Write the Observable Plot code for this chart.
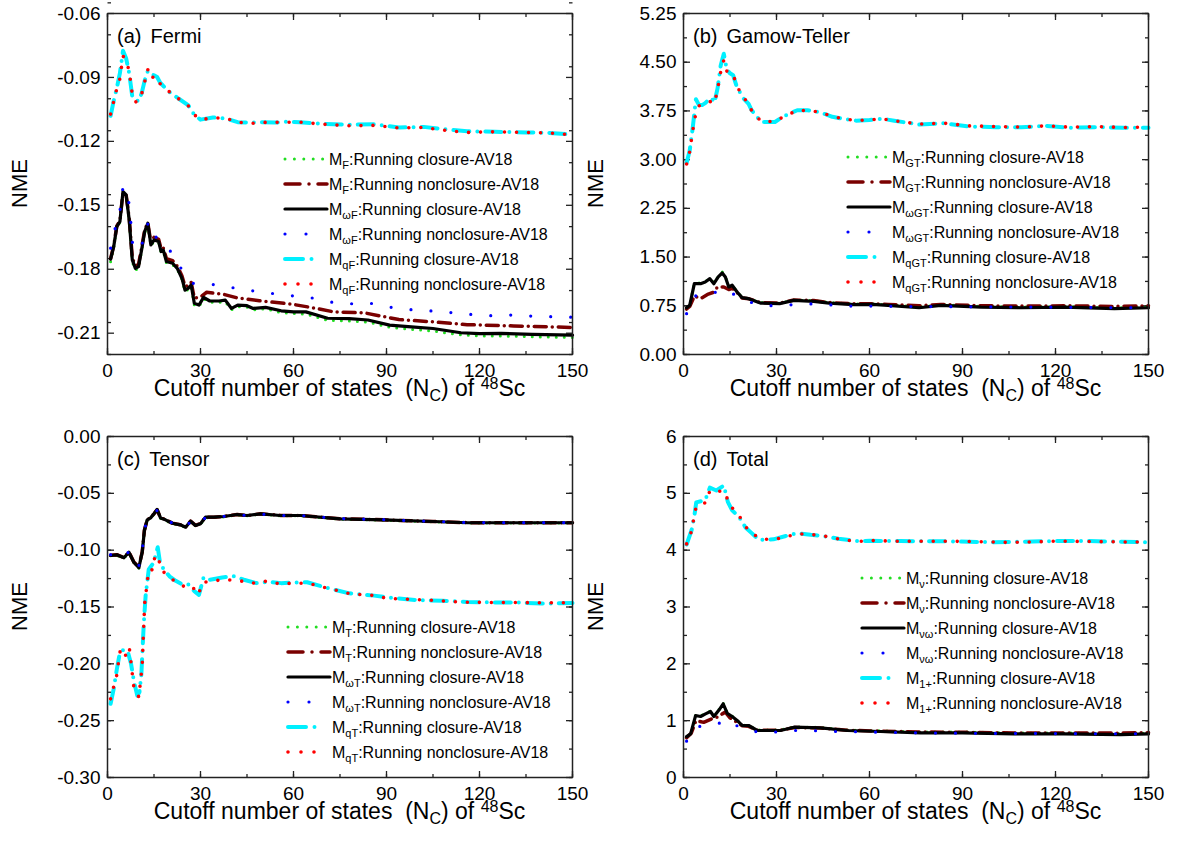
<!DOCTYPE html>
<html><head><meta charset="utf-8">
<script src="https://cdn.jsdelivr.net/npm/d3@7"></script>
<script src="https://cdn.jsdelivr.net/npm/@observablehq/plot@0.6"></script>
<style>
body{margin:0;background:#fff;}
#wrap{position:relative;width:1177px;height:853px;font-family:"Liberation Sans",Arial,sans-serif;background:#fff;}
.panel{position:absolute;}
</style></head><body><div id="wrap"></div>
<script>
// ---------- tick labels ----------
const xTicks = [0, 30, 60, 90, 120, 150];
const fermiTicks = [-0.21, -0.18, -0.15, -0.12, -0.09, -0.06];
const gtTicks = [0, 0.75, 1.5, 2.25, 3, 3.75, 4.5, 5.25];
const tensorTicks = [-0.3, -0.25, -0.2, -0.15, -0.1, -0.05, 0];
const totalTicks = [0, 1, 2, 3, 4, 5, 6];

// ---------- (a) Fermi ----------
const fermiClosure = [[1,-0.1765],[2,-0.1700],[3,-0.1605],[4,-0.1580],[5,-0.1440],[6,-0.1455],[7,-0.1575],[8,-0.1765],[9,-0.1805],[10,-0.1795],[11,-0.1715],[12,-0.1630],[13,-0.1590],[14,-0.1690],[15,-0.1668],[16.5,-0.1675],[17.3,-0.1722],[18,-0.1715],[19,-0.1770],[21,-0.1778],[22.5,-0.1800],[24,-0.1848],[25,-0.1905],[26,-0.1895],[27,-0.1880],[28,-0.1968],[29.5,-0.1975],[31,-0.1938],[33,-0.1955],[36,-0.1955],[38,-0.1952],[40,-0.1990],[42,-0.1975],[45,-0.1978],[47,-0.1990],[51,-0.1986],[56,-0.2003],[60,-0.2008],[64,-0.2010],[71,-0.2040],[78,-0.2043],[84,-0.2048],[91,-0.2072],[98,-0.2082],[105,-0.2090],[114,-0.2108],[120,-0.2113],[127,-0.2113],[137,-0.2117],[150,-0.2120]];
const fermiNonclosure = [[1,-0.1750],[2,-0.1690],[3,-0.1598],[4,-0.1572],[5,-0.1440],[6,-0.1450],[7,-0.1560],[8,-0.1745],[9,-0.1785],[10,-0.1778],[11,-0.1700],[12,-0.1615],[13,-0.1582],[14,-0.1675],[15,-0.1650],[16.5,-0.1660],[17.3,-0.1705],[18,-0.1700],[19,-0.1750],[21,-0.1760],[22.5,-0.1785],[24,-0.1830],[25,-0.1880],[26,-0.1878],[27,-0.1862],[28,-0.1935],[30,-0.1930],[32,-0.1908],[37.5,-0.1918],[42,-0.1935],[49,-0.1948],[59,-0.1963],[66,-0.1980],[73,-0.2000],[83,-0.2005],[94,-0.2036],[105,-0.2047],[116,-0.2060],[131,-0.2066],[150,-0.2073]];
const fermiOmegaClosure = [[1,-0.1753],[2,-0.1694],[3,-0.1600],[4,-0.1577],[5,-0.1435],[6,-0.1451],[7,-0.1568],[8,-0.1756],[9,-0.1796],[10,-0.1788],[11,-0.1710],[12,-0.1623],[13,-0.1584],[14,-0.1686],[15,-0.1663],[16.5,-0.1670],[17.3,-0.1717],[18,-0.1710],[19,-0.1764],[21,-0.1772],[22.5,-0.1796],[24,-0.1842],[25,-0.1898],[26,-0.1890],[27,-0.1874],[28,-0.1960],[29.5,-0.1968],[31,-0.1932],[33,-0.1949],[36,-0.1949],[38,-0.1945],[40,-0.1984],[42,-0.1968],[45,-0.1971],[47,-0.1984],[51,-0.1979],[56,-0.1995],[60,-0.2000],[64,-0.2000],[71,-0.2030],[78,-0.2032],[84,-0.2038],[91,-0.2062],[98,-0.2070],[105,-0.2078],[114,-0.2098],[120,-0.2102],[127,-0.2101],[137,-0.2106],[150,-0.2109]];
const fermiOmegaNonclosure = [[1,-0.1701],[2.6,-0.1600],[4.2,-0.1511],[5,-0.1412],[7.2,-0.1500],[7.6,-0.1600],[8.2,-0.1699],[10.9,-0.1705],[12,-0.1610],[13.5,-0.1577],[14.7,-0.1634],[17.3,-0.1675],[21,-0.1725],[24.6,-0.1819],[27.6,-0.1866],[31,-0.1866],[37.5,-0.1878],[44,-0.1897],[50,-0.1906],[57,-0.1923],[64,-0.1928],[71,-0.1952],[77.5,-0.1963],[84,-0.1957],[90,-0.1976],[97,-0.1989],[104,-0.1995],[110,-0.2002],[117,-0.2012],[124,-0.2018],[130,-0.2015],[137,-0.2020],[144,-0.2023],[150,-0.2025]];
const fermiQClosure = [[1,-0.1080],[2,-0.1010],[3,-0.0950],[4,-0.0880],[5,-0.0775],[6,-0.0810],[7,-0.0880],[8,-0.0990],[9,-0.1005],[10,-0.1012],[11,-0.0975],[12,-0.0915],[13,-0.0870],[14,-0.0885],[15,-0.0890],[16,-0.0898],[17,-0.0925],[18,-0.0940],[20,-0.0968],[23,-0.1000],[26,-0.1030],[28,-0.1075],[30,-0.1098],[34,-0.1088],[38,-0.1092],[42,-0.1110],[46,-0.1112],[50,-0.1110],[54,-0.1112],[58,-0.1108],[62,-0.1110],[70,-0.1118],[78,-0.1122],[86,-0.1120],[94,-0.1135],[102,-0.1132],[110,-0.1145],[116,-0.1152],[125,-0.1155],[135,-0.1158],[142,-0.1160],[150,-0.1168]];
const fermiQNonclosure = [[1,-0.1072],[2,-0.1012],[3,-0.0953],[4,-0.0906],[5,-0.0800],[6,-0.0820],[7,-0.0870],[8,-0.0980],[9,-0.1015],[10,-0.1012],[11,-0.0979],[12,-0.0921],[13,-0.0863],[14,-0.0906],[15,-0.0895],[16,-0.0898],[17,-0.0930],[18,-0.0940],[20,-0.0968],[23,-0.1001],[26,-0.1032],[28,-0.1075],[30,-0.1098],[34,-0.1090],[38,-0.1090],[42,-0.1110],[46,-0.1116],[50,-0.1111],[54,-0.1111],[58,-0.1110],[62,-0.1110],[70,-0.1120],[78,-0.1127],[86,-0.1125],[94,-0.1137],[102,-0.1135],[110,-0.1150],[116,-0.1158],[125,-0.1155],[135,-0.1158],[142,-0.1160],[150,-0.1170]];

// ---------- (b) Gamow-Teller ----------
const gtClosure = [[1,0.71],[2,0.75],[3.5,1.10],[5.5,1.10],[7,1.12],[8.5,1.17],[9.8,1.10],[11.2,1.20],[12.5,1.27],[13.5,1.20],[14.6,1.05],[15.7,1.07],[17.3,0.97],[18.9,0.88],[21,0.86],[24.8,0.80],[31,0.79],[35.6,0.84],[42,0.83],[47,0.80],[55,0.775],[61,0.78],[66,0.765],[76,0.73],[83,0.765],[96,0.74],[109,0.73],[123,0.74],[139,0.715],[150,0.73]];
const gtNonclosure = [[1,0.70],[2,0.74],[3.5,0.90],[5.5,0.86],[8,0.93],[9.8,0.96],[11,1.04],[13,1.04],[14.6,1.00],[15.7,1.02],[17.3,0.95],[18.9,0.87],[21,0.86],[24.8,0.80],[31,0.79],[35.6,0.84],[42,0.83],[47,0.80],[55,0.78],[61,0.78],[66,0.77],[76,0.75],[83,0.77],[96,0.75],[109,0.745],[123,0.75],[139,0.74],[150,0.75]];
const gtOmegaClosure = [[1,0.72],[2,0.757],[3.5,1.09],[5.5,1.09],[7,1.117],[8.5,1.168],[9.8,1.09],[11.2,1.194],[12.5,1.256],[13.5,1.194],[14.6,1.04],[15.7,1.066],[17.3,0.962],[18.9,0.875],[21,0.86],[24.8,0.792],[31,0.783],[35.6,0.834],[42,0.818],[47,0.792],[55,0.767],[61,0.772],[66,0.757],[76,0.72],[83,0.757],[96,0.73],[109,0.72],[123,0.73],[139,0.705],[150,0.72]];
const gtOmegaNonclosure = [[1,0.628],[4,0.906],[9.3,0.947],[14,0.999],[18.7,0.845],[25.4,0.752],[31.8,0.752],[38.8,0.783],[45,0.772],[52,0.746],[58.7,0.746],[70,0.74],[90,0.735],[110,0.73],[130,0.725],[150,0.72]];
const gtQClosure = [[1,2.95],[2,3.14],[3,3.50],[4,3.93],[5,3.84],[6,3.84],[7,3.87],[8,3.92],[9,3.95],[10,3.88],[11,4.10],[12,4.45],[13,4.63],[14,4.38],[15,4.33],[16,4.30],[17,4.15],[19,3.96],[21,3.86],[22,3.76],[25,3.58],[29.5,3.58],[32.4,3.67],[36.7,3.76],[40,3.76],[44,3.73],[48,3.66],[51.5,3.63],[55.7,3.60],[60,3.61],[64,3.63],[68,3.60],[76,3.54],[84,3.56],[92,3.51],[101,3.50],[109,3.50],[117,3.52],[125,3.49],[133,3.50],[142,3.49],[150,3.49]];
const gtQNonclosure = [[1,2.934],[2,3.12],[3,3.45],[4,3.72],[5,3.83],[6,3.83],[7,3.85],[8,3.88],[9,3.90],[10,3.87],[11,4.08],[12,4.35],[13,4.53],[14,4.36],[15,4.33],[16,4.32],[17,4.16],[19,3.97],[21,3.87],[22,3.75],[25,3.59],[29.5,3.587],[32.4,3.664],[36.7,3.757],[40,3.757],[44,3.732],[48,3.664],[51.5,3.629],[55.7,3.603],[60,3.613],[64,3.629],[68,3.598],[76,3.547],[84,3.562],[92,3.52],[101,3.51],[109,3.50],[117,3.52],[125,3.50],[133,3.51],[142,3.495],[150,3.50]];

// ---------- (c) Tensor ----------
const tensorClosure = [[1,-0.1050],[3,-0.1045],[5.3,-0.1070],[6.9,-0.1022],[8.5,-0.1110],[10.1,-0.1158],[11.2,-0.1022],[11.9,-0.0832],[12.8,-0.0738],[13.9,-0.0720],[15,-0.0685],[16,-0.0648],[17.1,-0.0720],[18.7,-0.0738],[20.9,-0.0768],[23.5,-0.0780],[25.2,-0.0800],[26.8,-0.0750],[28.4,-0.0786],[30,-0.0772],[31.6,-0.0714],[34.3,-0.0713],[37.5,-0.0707],[41.8,-0.0690],[45,-0.0698],[49.4,-0.0683],[55.8,-0.0698],[62.3,-0.0698],[75,-0.0727],[89,-0.0736],[105,-0.0750],[116,-0.0761],[132,-0.0762],[150,-0.0762]];
const tensorNonclosure = [[1,-0.1045],[3,-0.1040],[5.3,-0.1065],[6.9,-0.1016],[8.5,-0.1104],[10.1,-0.1150],[11.2,-0.1015],[11.9,-0.0825],[12.8,-0.0732],[13.9,-0.0714],[15,-0.0680],[16,-0.0645],[17.1,-0.0714],[18.7,-0.0732],[20.9,-0.0762],[23.5,-0.0776],[25.2,-0.0796],[26.8,-0.0745],[28.4,-0.0782],[30,-0.0766],[31.6,-0.0710],[34.3,-0.0710],[37.5,-0.0703],[41.8,-0.0686],[45,-0.0695],[49.4,-0.0680],[55.8,-0.0694],[62.3,-0.0694],[75,-0.0723],[89,-0.0733],[105,-0.0748],[116,-0.0758],[132,-0.0759],[150,-0.0759]];
const tensorOmegaClosure = [[1,-0.1047],[3,-0.1041],[5.3,-0.1067],[6.9,-0.1018],[8.5,-0.1106],[10.1,-0.1155],[11.2,-0.1018],[11.9,-0.0827],[12.8,-0.0733],[13.9,-0.0716],[15,-0.0680],[16,-0.0642],[17.1,-0.0716],[18.7,-0.0733],[20.9,-0.0763],[23.5,-0.0777],[25.2,-0.0798],[26.8,-0.0745],[28.4,-0.0783],[30,-0.0768],[31.6,-0.0710],[34.3,-0.0710],[37.5,-0.0704],[41.8,-0.0686],[45,-0.0695],[49.4,-0.0680],[55.8,-0.0695],[62.3,-0.0695],[75,-0.0724],[89,-0.0733],[105,-0.0748],[116,-0.0759],[132,-0.0759],[150,-0.0759]];
const tensorOmegaNonclosure = [[1,-0.1040],[3,-0.1038],[5.3,-0.1062],[6.9,-0.1012],[8.5,-0.1100],[10.1,-0.1140],[11.2,-0.1010],[11.9,-0.0820],[12.8,-0.0730],[13.9,-0.0712],[15,-0.0680],[16,-0.0650],[17.1,-0.0712],[18.7,-0.0730],[20.9,-0.0760],[23.5,-0.0775],[25.2,-0.0795],[26.8,-0.0750],[28.4,-0.0780],[30,-0.0765],[31.6,-0.0712],[34.3,-0.0710],[37.5,-0.0703],[41.8,-0.0688],[45,-0.0695],[49.4,-0.0683],[55.8,-0.0695],[62.3,-0.0695],[75,-0.0722],[89,-0.0732],[105,-0.0747],[116,-0.0757],[132,-0.0758],[150,-0.0758]];
const tensorQClosure = [[1,-0.2352],[2,-0.2220],[3,-0.2050],[4,-0.1900],[5.3,-0.1874],[6.5,-0.1890],[7.6,-0.2000],[8.5,-0.2150],[9.6,-0.2280],[10.3,-0.2250],[10.9,-0.2103],[11.7,-0.1648],[12.3,-0.1400],[13.3,-0.1170],[14.6,-0.1120],[15.5,-0.1050],[16.2,-0.0974],[17,-0.1120],[18.5,-0.1180],[20,-0.1230],[22,-0.1270],[24,-0.1300],[26,-0.1300],[28,-0.1360],[29.5,-0.1393],[31,-0.1238],[33,-0.1260],[37,-0.1240],[40.7,-0.1229],[44,-0.1260],[48,-0.1290],[52,-0.1280],[56,-0.1290],[60,-0.1285],[64.4,-0.1282],[68,-0.1310],[72,-0.1340],[78,-0.1380],[86,-0.1400],[92,-0.1420],[100,-0.1440],[108,-0.1445],[116,-0.1455],[124,-0.1460],[132,-0.1460],[140,-0.1470],[150,-0.1465]];
const tensorQNonclosure = [[1,-0.2308],[2,-0.2200],[3.1,-0.2088],[3.6,-0.1970],[4.2,-0.1868],[5.3,-0.1880],[6.1,-0.1947],[7.1,-0.1874],[8.5,-0.2206],[9.6,-0.2250],[10.1,-0.2294],[11.2,-0.2015],[11.5,-0.1795],[12,-0.1467],[12.5,-0.1355],[13.3,-0.1173],[14.6,-0.1173],[15.2,-0.1067],[16.5,-0.1047],[16.9,-0.1150],[18.2,-0.1194],[19.8,-0.1238],[21.4,-0.1267],[24.4,-0.1317],[26.2,-0.1302],[27.9,-0.1340],[29.2,-0.1393],[30.9,-0.1282],[33.2,-0.1276],[37.3,-0.1258],[41.3,-0.1267],[44.5,-0.1276],[47.4,-0.1291],[51.2,-0.1273],[55.5,-0.1296],[59.6,-0.1291],[62.8,-0.1291],[66.5,-0.1302],[70.9,-0.1335],[74.1,-0.1355],[78.2,-0.1384],[86,-0.1399],[90,-0.1423],[98.3,-0.1434],[106,-0.1443],[115,-0.1458],[123,-0.1460],[131,-0.1460],[139.7,-0.1463],[150,-0.1463]];

// ---------- (d) Total ----------
const totalClosure = [[1,0.71],[2.3,0.76],[3.9,1.10],[5.5,1.08],[7.1,1.13],[8.7,1.17],[9.8,1.08],[11.5,1.20],[12.8,1.31],[14.1,1.14],[15.7,1.08],[17.3,1.01],[18.9,0.92],[21,0.92],[23.8,0.835],[31.3,0.835],[35.6,0.89],[44.2,0.88],[52.8,0.835],[63.5,0.82],[76.5,0.80],[90,0.80],[106.5,0.785],[122.7,0.785],[141,0.77],[150,0.78]];
const totalNonclosure = [[1,0.70],[2.5,0.78],[4,1.00],[6.5,0.97],[9,1.03],[10.9,1.06],[12.5,1.12],[13.5,1.15],[15,1.05],[17,0.98],[19,0.91],[21,0.90],[24,0.83],[31,0.83],[36,0.88],[44,0.87],[53,0.83],[64,0.815],[77,0.80],[90,0.795],[107,0.785],[123,0.785],[141,0.78],[150,0.79]];
const totalOmegaClosure = [[1,0.72],[2.3,0.768],[3.9,1.09],[5.5,1.073],[7.1,1.12],[8.7,1.161],[9.8,1.073],[11.5,1.191],[12.8,1.297],[14.1,1.131],[15.7,1.073],[17.3,1.003],[18.9,0.915],[21,0.915],[23.8,0.827],[31.3,0.827],[35.6,0.885],[44.2,0.874],[52.8,0.827],[63.5,0.809],[76.5,0.786],[90,0.786],[106.5,0.768],[122.7,0.768],[141,0.756],[150,0.768]];
const totalOmegaNonclosure = [[1,0.639],[5,0.897],[9.8,0.915],[14.1,1.015],[18.9,0.856],[25.4,0.786],[32.1,0.809],[39,0.839],[45.6,0.809],[52.4,0.809],[59,0.80],[70,0.79],[85,0.78],[100,0.775],[115,0.775],[130,0.77],[150,0.77]];
const totalQClosure = [[1,4.10],[2.6,4.35],[3.5,4.60],[4.1,4.84],[7,4.88],[8.5,5.10],[10.6,5.05],[13,5.138],[14.3,4.85],[15.7,4.70],[18,4.58],[20,4.40],[22,4.30],[24.3,4.182],[29,4.19],[33,4.25],[36.7,4.30],[41,4.27],[45,4.25],[50,4.20],[56,4.16],[60,4.165],[70,4.16],[85,4.155],[100,4.14],[110,4.15],[120,4.16],[130,4.16],[140,4.15],[150,4.14]];
const totalQNonclosure = [[1,4.11],[2.6,4.334],[3.3,4.552],[4.1,4.768],[7.4,4.844],[8.5,5.05],[10.6,5.037],[13.3,5.037],[14.6,4.826],[15.7,4.745],[18.1,4.592],[20,4.416],[22.2,4.288],[25.4,4.193],[29.7,4.193],[32.7,4.228],[36.7,4.288],[40.7,4.276],[44.7,4.258],[48,4.217],[51.7,4.182],[56,4.152],[60,4.17],[69,4.158],[85,4.158],[95,4.15],[105.5,4.135],[120.5,4.158],[135,4.15],[150,4.14]];

// ---------- legend texts ----------
const legendTexts = [":Running closure-AV18", ":Running nonclosure-AV18", ":Running closure-AV18", ":Running nonclosure-AV18", ":Running closure-AV18", ":Running nonclosure-AV18"];
const fermiSubs = ["F", "F", "ωF", "ωF", "qF", "qF"];
const gtSubs = ["GT", "GT", "ωGT", "ωGT", "qGT", "qGT"];
const tensorSubs = ["T", "T", "ωT", "ωT", "qT", "qT"];
const totalSubs = ["ν", "ν", "νω", "νω", "1+", "1+"];

// ---------- styles ----------
const styles = [
  {stroke: "#22dd22", w: 3, dash: "0 8", ldash: "0 9.4"},
  {stroke: "#7a0000", w: 3.5, dash: "12 6 0 6", ldash: "15 9 0 9"},
  {stroke: "#000000", w: 3.2, dash: null, ldash: null},
  {stroke: "#0000ff", w: 3.2, dash: "0 20", ldash: "0 21 0 100"},
  {stroke: "#00f0ff", w: 4, dash: "16 8 0 8", ldash: "18 8.5 0 100"},
  {stroke: "#ff0000", w: 3.6, dash: "0 12", ldash: "0 13 0 13 0 100"}
];

const W = 588, H = 421, ML = 107, MR = 16, MT = 13, MB = 67;
const innerW = W - ML - MR, innerH = H - MT - MB;
const FF = "'Liberation Sans', Arial, sans-serif";

const panels = [
  {left: 0, top: 0, tag: "(a)", name: "Fermi", domain: [-0.22, -0.06], ticks: fermiTicks, step: 0.015, fmt: d => d.toFixed(2),
   series: [fermiClosure, fermiNonclosure, fermiOmegaClosure, fermiOmegaNonclosure, fermiQClosure, fermiQNonclosure], subs: fermiSubs, lx: 285, ly: 159},
  {left: 576, top: 0, tag: "(b)", name: "Gamow-Teller", domain: [0, 5.25], ticks: gtTicks, step: 0.375, fmt: d => d.toFixed(2),
   series: [gtClosure, gtNonclosure, gtOmegaClosure, gtOmegaNonclosure, gtQClosure, gtQNonclosure], subs: gtSubs, lx: 272, ly: 157},
  {left: 0, top: 423, tag: "(c)", name: "Tensor", domain: [-0.3, 0], ticks: tensorTicks, step: 0.025, fmt: d => d.toFixed(2),
   series: [tensorClosure, tensorNonclosure, tensorOmegaClosure, tensorOmegaNonclosure, tensorQClosure, tensorQNonclosure], subs: tensorSubs, lx: 288, ly: 204},
  {left: 576, top: 423, tag: "(d)", name: "Total", domain: [0, 6], ticks: totalTicks, step: 0.5, fmt: d => d.toFixed(0),
   series: [totalClosure, totalNonclosure, totalOmegaClosure, totalOmegaNonclosure, totalQClosure, totalQNonclosure], subs: totalSubs, lx: 286, ly: 155}
];

const wrap = document.getElementById("wrap");
const xMinor = d3.range(0, 151, 15);

for (const p of panels) {
  const d0 = p.domain[0], d1 = p.domain[1];
  const yMinor = d3.range(0, Math.round((d1 - d0) / p.step) + 1).map(k => d0 + k * p.step);
  // tick lengths expressed in data units of each scale
  const yLong = 6.5 * (d1 - d0) / innerH, yShort = 3.5 * (d1 - d0) / innerH;
  const xLong = 6.5 * 150 / innerW, xShort = 3.5 * 150 / innerW;
  const box = [[0, d0], [150, d0], [150, d1], [0, d1], [0, d0]];
  const tk = {stroke: "#222", strokeWidth: 1.3};
  const lineMarks = p.series.map((s, i) => Plot.line(s, {
    x: d => d[0], y: d => d[1], stroke: styles[i].stroke, strokeWidth: styles[i].w,
    strokeDasharray: styles[i].dash, strokeLinecap: "round", strokeLinejoin: "round"
  }));
  const chart = Plot.plot({
    width: W, height: H, marginLeft: ML, marginRight: MR, marginTop: MT, marginBottom: MB,
    x: {domain: [0, 150]},
    y: {domain: p.domain},
    style: {fontFamily: FF, fontSize: "19px", color: "#000"},
    marks: [
      // inward ticks on all four sides
      Plot.link(xMinor, {...tk, x1: d => d, x2: d => d, y1: () => d0, y2: () => d0 + yShort}),
      Plot.link(xTicks, {...tk, x1: d => d, x2: d => d, y1: () => d0, y2: () => d0 + yLong}),
      Plot.link(xMinor, {...tk, x1: d => d, x2: d => d, y1: () => d1, y2: () => d1 - yShort}),
      Plot.link(xTicks, {...tk, x1: d => d, x2: d => d, y1: () => d1, y2: () => d1 - yLong}),
      Plot.link(yMinor, {...tk, y1: d => d, y2: d => d, x1: () => 0, x2: () => xShort}),
      Plot.link(p.ticks, {...tk, y1: d => d, y2: d => d, x1: () => 0, x2: () => xLong}),
      Plot.link(yMinor, {...tk, y1: d => d, y2: d => d, x1: () => 150, x2: () => 150 - xShort}),
      Plot.link(p.ticks, {...tk, y1: d => d, y2: d => d, x1: () => 150, x2: () => 150 - xLong}),
      ...lineMarks,
      // plot box
      Plot.line(box, {x: d => d[0], y: d => d[1], stroke: "#222", strokeWidth: 1.5, strokeLinejoin: "miter"}),
      Plot.axisX({ticks: xTicks, tickSize: 0, tickPadding: 9, label: null, tickFormat: d => String(d)}),
      Plot.axisY({ticks: p.ticks, tickSize: 0, tickPadding: 7, label: null, tickFormat: p.fmt})
    ]
  });
  const div = document.createElement("div");
  div.className = "panel";
  div.style.left = p.left + "px";
  div.style.top = p.top + "px";
  div.appendChild(chart);
  wrap.appendChild(div);

  const svg = d3.select(chart).style("overflow", "visible").style("background", "transparent");
  // panel label
  const t0 = svg.append("text").attr("x", 117).attr("y", 43).attr("text-anchor", "start")
    .attr("font-family", FF).attr("font-size", 20).attr("fill", "#000");
  t0.append("tspan").text(p.tag);
  t0.append("tspan").attr("dx", 9).text(p.name);
  // y title
  svg.append("text").attr("transform", `translate(19,${MT + innerH / 2}) rotate(-90)`)
    .attr("text-anchor", "middle").attr("dy", "0.35em").attr("font-family", FF).attr("font-size", 22).attr("fill", "#000").text("NME");
  // x title
  const xt = svg.append("text").attr("x", ML + innerW / 2).attr("y", H - 25).attr("text-anchor", "middle")
    .attr("font-family", FF).attr("font-size", 23).attr("fill", "#000");
  xt.append("tspan").text("Cutoff number of states\u00a0\u00a0(N");
  xt.append("tspan").attr("dy", 5).attr("font-size", 16).text("C");
  xt.append("tspan").attr("dy", -5).text(") of ");
  xt.append("tspan").attr("dy", -7).attr("font-size", 16).text("48");
  xt.append("tspan").attr("dy", 7).text("Sc");
  // legend
  const lg = svg.append("g");
  styles.forEach((s, i) => {
    const y = p.ly + i * 25;
    lg.append("line").attr("x1", p.lx).attr("x2", p.lx + 42).attr("y1", y).attr("y2", y)
      .attr("stroke", s.stroke).attr("stroke-width", s.w).attr("stroke-linecap", "round")
      .attr("stroke-dasharray", s.ldash);
    const t = lg.append("text").attr("x", p.lx + 44).attr("y", y + 6).attr("text-anchor", "start")
      .attr("font-family", FF).attr("font-size", 16).attr("fill", "#000");
    t.append("tspan").text("M");
    t.append("tspan").attr("dy", 4).attr("font-size", 11).text(p.subs[i]);
    t.append("tspan").attr("dy", -4).text(legendTexts[i]);
  });
}
</script></body></html>
